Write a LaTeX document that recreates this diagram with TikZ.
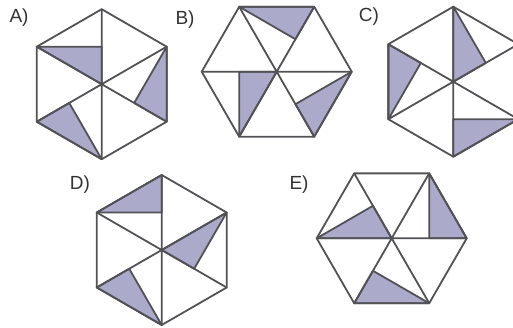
\documentclass[tikz,border=0pt]{standalone}
\usepackage{fontspec}
\setmainfont{Liberation Sans}
\usetikzlibrary{calc}
\definecolor{shade}{RGB}{172,170,202}
\definecolor{edge}{RGB}{82,82,86}
\begin{document}
\begin{tikzpicture}[x=1pt,y=-1pt,line join=round,line cap=round,
 hexline/.style={draw=edge,line width=1.8pt},
 part/.style={fill=shade,draw=edge,line width=1.8pt},
 tag/.style={font=\fontsize{19}{20}\selectfont,text=black!80}]
\useasboundingbox (0,0) rectangle (513,327);
% hexagons: centre, first vertex angle (y runs down)
\foreach \h/\x/\y/\a in {A/101.7/84.2/30,B/276.7/71.7/0,C/453.3/81.7/30,D/161.7/250/30,E/391.7/238.3/0}{
 \coordinate (\h) at (\x,\y);
 \foreach \i in {0,...,5} \coordinate (\h\i) at ($(\h)+(\a+60*\i:75)$);}
% shaded halves: two corners and the midpoint of centre--\m
\foreach \h/\p/\q/\m in {A/A3/A/A4,A/A5/A0/A0,A/A2/A1/A2,
 B/B4/B5/B5,B/B2/B/B3,B/B0/B1/B1,
 C/C4/C/C5,C/C3/C2/C3,C/C0/C1/C1,
 D/D3/D4/D4,D/D/D5/D0,D/D2/D1/D2,
 E/E3/E/E4,E/E5/E0/E0,E/E2/E1/E2}
 \draw[part] (\p)--(\q)--($(\h)!.5!(\m)$)--cycle;
\foreach \h in {A,B,C,D,E}{
 \draw[hexline] (\h0)--(\h1)--(\h2)--(\h3)--(\h4)--(\h5)--cycle;
 \draw[hexline] (\h0)--(\h3) (\h1)--(\h4) (\h2)--(\h5);}
\node[tag] (la) at (19,18){A)}; \node[tag] (lb) at (185,20){B)}; \node[tag] (lc) at (369,17){C)};
\node[tag] (ld) at (80,185){D)}; \node[tag] (le) at (299,185){E)};
\end{tikzpicture}
\end{document}
